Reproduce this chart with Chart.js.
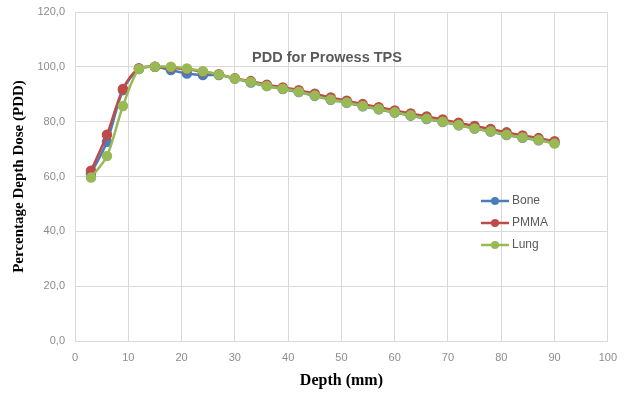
<!DOCTYPE html>
<html>
<head>
<meta charset="utf-8">
<script src="https://cdn.jsdelivr.net/npm/chart.js@4.4.0/dist/chart.umd.min.js"></script>
<style>
  html, body { margin: 0; padding: 0; background: #fff; }
  canvas { display: block; }
</style>
</head>
<body>
<canvas id="chart" width="627" height="394"></canvas>
<script>
const depths = [3, 6, 9, 12, 15, 18, 21, 24, 27, 30, 33, 36, 39, 42, 45, 48, 51, 54, 57, 60, 63, 66, 69, 72, 75, 78, 81, 84, 87, 90];
const bone = [61.0, 72.7, 91.5, 99.2, 100, 98.8, 97.6, 97.0, 97.0, 95.7, 94.3, 93.0, 91.9, 90.8, 89.4, 88.0, 86.9, 85.6, 84.5, 83.3, 82.2, 81.0, 79.9, 78.7, 77.5, 76.4, 75.1, 74.1, 73.2, 72.3];
const pmma = [62.1, 75.2, 91.9, 99.5, 100, 99.7, 99.1, 98.2, 97.3, 95.8, 94.8, 93.5, 92.5, 91.5, 90.2, 88.8, 87.6, 86.4, 85.3, 84.1, 83.0, 81.9, 80.8, 79.6, 78.4, 77.3, 76.1, 75.0, 74.0, 72.9];
const lung = [59.6, 67.5, 85.7, 99.2, 100, 100, 99.4, 98.4, 97.2, 95.7, 94.5, 93.0, 92.0, 90.9, 89.5, 88.1, 87.0, 85.7, 84.6, 83.4, 82.3, 81.1, 80.0, 78.8, 77.5, 76.5, 75.2, 74.2, 73.3, 72.0];
const seriesNames = ["Bone", "PMMA", "Lung"];
const seriesColors = ["#4a7ebb", "#be4b48", "#98b954"];

function toPoints(vals) {
  return depths.map((d, i) => ({ x: d, y: vals[i] }));
}

function makeSet(i, vals, order) {
  return {
    label: seriesNames[i],
    data: toPoints(vals),
    borderColor: seriesColors[i],
    backgroundColor: seriesColors[i],
    borderWidth: 2.5,
    pointRadius: 4,
    pointHoverRadius: 4,
    tension: 0.3,
    order: order
  };
}

// title and legend sit inside the plot, like the Excel original
const overlay = {
  id: 'overlay',
  afterDraw(chart) {
    const ctx = chart.ctx;
    ctx.save();
    ctx.font = "bold 14.5px 'Liberation Sans', Arial, sans-serif";
    ctx.fillStyle = "#595959";
    ctx.textAlign = "center";
    ctx.textBaseline = "middle";
    ctx.fillText("PDD for Prowess TPS", 327, 58);

    ctx.font = "12px 'Liberation Sans', Arial, sans-serif";
    ctx.textAlign = "left";
    seriesNames.forEach((name, i) => {
      const y = 201 + i * 22;
      ctx.strokeStyle = seriesColors[i];
      ctx.fillStyle = seriesColors[i];
      ctx.lineWidth = 2.5;
      ctx.beginPath();
      ctx.moveTo(481, y);
      ctx.lineTo(509, y);
      ctx.stroke();
      ctx.beginPath();
      ctx.arc(495, y, 4, 0, Math.PI * 2);
      ctx.fill();
      ctx.fillStyle = "#595959";
      ctx.fillText(name, 512, y);
    });
    ctx.restore();
  }
};

const ctx = document.getElementById('chart').getContext('2d');
new Chart(ctx, {
  type: 'line',
  data: {
    datasets: [makeSet(0, bone, 2), makeSet(1, pmma, 1), makeSet(2, lung, 0)]
  },
  plugins: [overlay],
  options: {
    responsive: false,
    animation: false,
    layout: { padding: { top: 12, right: 19, left: 0, bottom: 0 } },
    plugins: {
      legend: { display: false },
      tooltip: { enabled: false }
    },
    scales: {
      x: {
        type: 'linear',
        min: 0,
        max: 100,
        ticks: {
          stepSize: 10,
          color: "#8c8c8c",
          font: { family: "'Liberation Sans', Arial, sans-serif", size: 11 },
          padding: 10
        },
        grid: { color: "#d9d9d9", drawTicks: false },
        border: { color: "#d9d9d9" },
        title: {
          display: true,
          text: "Depth (mm)",
          color: "#000",
          font: { family: "'Liberation Serif', 'Times New Roman', serif", size: 16, weight: 'bold' },
          padding: { top: 2, bottom: 4 }
        },
        afterFit(scale) { scale.height = 53; }
      },
      y: {
        min: 0,
        max: 120,
        ticks: {
          stepSize: 20,
          color: "#8c8c8c",
          font: { family: "'Liberation Sans', Arial, sans-serif", size: 11 },
          padding: 10,
          callback: v => v.toFixed(1).replace('.', ',')
        },
        grid: { color: "#d9d9d9", drawTicks: false },
        border: { color: "#d9d9d9" },
        title: {
          display: true,
          text: "Percentage Depth Dose (PDD)",
          color: "#000",
          font: { family: "'Liberation Serif', 'Times New Roman', serif", size: 15, weight: 'bold' },
          padding: { top: 10, bottom: 4 }
        },
        afterFit(scale) {
          scale.width = 75;
          scale.paddingTop = 0;
          scale.paddingBottom = 0;
        }
      }
    }
  }
});
</script>
</body>
</html>
